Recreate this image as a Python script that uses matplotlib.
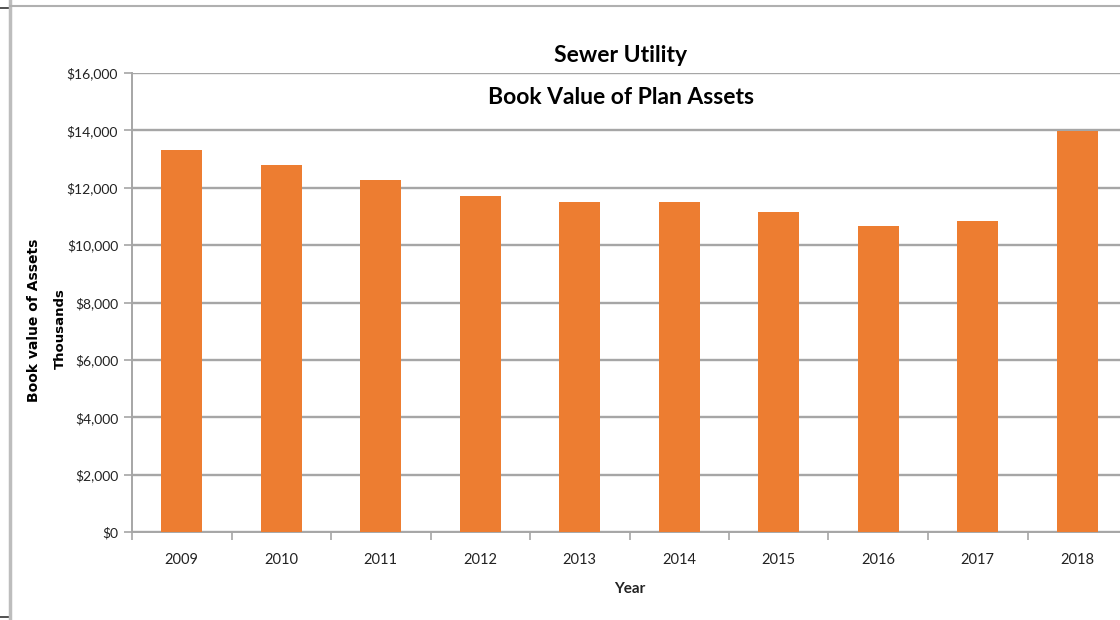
import matplotlib
matplotlib.use("Agg")
import matplotlib.pyplot as plt
from matplotlib.lines import Line2D
from matplotlib.ticker import FuncFormatter

years = ["2009", "2010", "2011", "2012", "2013", "2014", "2015", "2016", "2017", "2018"]
book_value = [13300, 12800, 12270, 11700, 11500, 11500, 11150, 10680, 10840, 13980]
y_ticks = [0, 2000, 4000, 6000, 8000, 10000, 12000, 14000, 16000]

narrow = ["Liberation Sans Narrow", "Lato", "DejaVu Sans"]
grid_c = "#A6A6A6"

fig = plt.figure(figsize=(11.2, 6.2), dpi=100)
ax = fig.add_axes([132 / 1120, 1 - 532 / 620, 995 / 1120, 459 / 620])

x = range(len(years))
ax.bar(x, book_value, width=0.41, color="#ED7D31", zorder=3)

ax.set_xlim(-0.5, len(years) - 0.5)
ax.set_ylim(0, 16000)
ax.set_yticks(y_ticks)
ax.yaxis.set_major_formatter(FuncFormatter(lambda v, p: "${:,.0f}".format(v)))
ax.grid(axis="y", color=grid_c, linewidth=1.7, zorder=0)

ax.set_xticks(list(x))
ax.set_xticklabels(years)
ax.set_xticks([i - 0.5 for i in range(len(years) + 1)], minor=True)
ax.tick_params(axis="x", which="major", length=0, pad=15)
ax.tick_params(axis="x", which="minor", length=6, width=1.2, color=grid_c)
ax.tick_params(axis="y", length=6, width=1.2, color=grid_c, pad=4)
for lab in ax.get_xticklabels():
    lab.set_family(narrow)
    lab.set_fontsize(10.5)
    lab.set_color("#222222")
for lab in ax.get_yticklabels():
    lab.set_family(narrow)
    lab.set_fontsize(10)
    lab.set_color("#222222")

for s in ["top", "right"]:
    ax.spines[s].set_visible(False)
for s in ["left", "bottom"]:
    ax.spines[s].set_color(grid_c)
    ax.spines[s].set_linewidth(1.4)

ax.set_xlabel("Year", family=narrow, fontsize=11, fontweight="bold", color="#222222", labelpad=11)

fig.text(621 / 1120, 1 - 56 / 620, "Sewer Utility", family=narrow, fontsize=16.5,
         fontweight="bold", ha="center", va="center")
fig.text(621 / 1120, 1 - 98 / 620, "Book Value of Plan Assets", family=narrow, fontsize=16.5,
         fontweight="bold", ha="center", va="center")

fig.text(34 / 1120, 1 - 320 / 620, "Book value of Assets", rotation=90, fontsize=10,
         fontweight="bold", ha="center", va="center")
fig.text(60 / 1120, 1 - 329 / 620, "Thousands", rotation=90, fontsize=9.5,
         fontweight="bold", ha="center", va="center")

# spreadsheet frame around the chart
fig.add_artist(Line2D([10 / 1120, 10 / 1120], [0, 1], color="#BDBDBD", linewidth=2.5))
fig.add_artist(Line2D([10 / 1120, 1], [1 - 6 / 620, 1 - 6 / 620], color="#B0B0B0", linewidth=1.5))
fig.add_artist(Line2D([0, 8 / 1120], [1 - 8 / 620, 1 - 8 / 620], color="#333333", linewidth=1.2))
fig.add_artist(Line2D([0, 8 / 1120], [1 - 617 / 620, 1 - 617 / 620], color="#333333", linewidth=1.2))

fig.savefig("out.png", dpi=100)
